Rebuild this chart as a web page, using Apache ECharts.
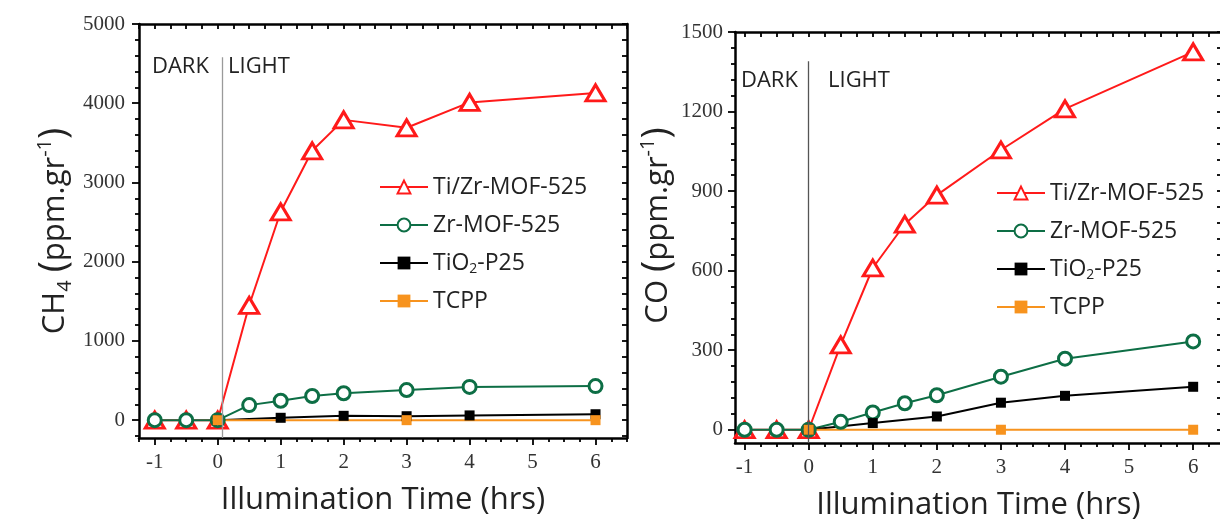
<!DOCTYPE html>
<html>
<head>
<meta charset="utf-8">
<script src="https://cdn.jsdelivr.net/npm/echarts@6/dist/echarts.min.js"></script>
<style>
  html, body { margin: 0; padding: 0; background: #fff; }
  #chart { width: 1220px; height: 519px; }
</style>
</head>
<body>
<div id="chart"></div>
<script>
// time points (hrs)
const timeAll = [-1, -0.5, 0, 0.5, 1, 1.5, 2, 3, 4, 6];
const timeP25 = [0, 1, 2, 3, 4, 6];
const timeTcpp = [0, 3, 6];

// CH4 (ppm.gr-1)
const ch4TiZr = [0, 0, 0, 1450, 2630, 3400, 3790, 3690, 4010, 4130];
const ch4Zr = [0, 0, 0, 190, 245, 305, 340, 380, 420, 430];
const ch4P25 = [0, 30, 55, 50, 60, 75];
const ch4Tcpp = [0, 0, 0];

// CO (ppm.gr-1)
const coTiZr = [0, 0, 0, 320, 610, 775, 885, 1055, 1210, 1425];
const coZr = [0, 0, 0, 30, 65, 100, 130, 200, 268, 333];
const coP25 = [0, 25, 50, 102, 128, 162];
const coTcpp = [0, 0, 0];

const names = ['Ti/Zr-MOF-525', 'Zr-MOF-525', 'TiO2-P25', 'TCPP'];
const timeLabels = [-1, 0, 1, 2, 3, 4, 5, 6];
const ch4Labels = [0, 1000, 2000, 3000, 4000, 5000];
const coLabels = [0, 300, 600, 900, 1200, 1500];

// dark / light divider (x, top of line)
const ch4Divider = [0.07, 4580];
const coDivider = [0, 1390];

const SANS = 'Open Sans';
const SERIF = 'Liberation Serif';

const styles = {
  'Ti/Zr-MOF-525': { color: '#ff1a1a', symbol: 'triangle', size: [19, 16], hollow: true, bw: 3 },
  'Zr-MOF-525': { color: '#0d6e45', symbol: 'circle', size: 13, hollow: true, bw: 3 },
  'TiO2-P25': { color: '#000000', symbol: 'rect', size: 10, hollow: false, bw: 0 },
  'TCPP': { color: '#f7931e', symbol: 'rect', size: 10, hollow: false, bw: 0 }
};

function pairs(xs, ys) {
  return xs.map((x, i) => [x, ys[i]]);
}

function steps(min, max, step) {
  let out = [];
  for (let k = Math.ceil(min / step - 1e-9); k * step <= max + 1e-9; k++) {
    out.push(Math.round(k * step * 1000) / 1000);
  }
  return out;
}

const blackLine = { color: '#000', width: 2.5 };
const tickLine = { color: '#000', width: 1.8 };
const plain = v => String(v);

function makeAxes(g, xr, yr, yMajor, yStep, yName, o) {
  let quarters = steps(xr[0], xr[1], 0.25);
  let xMinor = quarters.filter(v => !Number.isInteger(v));
  let yAll = steps(yr[0], yr[1], yStep);
  let yMinor = yAll.filter(v => yMajor.indexOf(v) < 0);
  let bx = { gridIndex: g, type: 'value', min: xr[0], max: xr[1], splitLine: { show: false } };
  let by = { gridIndex: g, type: 'value', min: yr[0], max: yr[1], splitLine: { show: false } };
  let x = [
    Object.assign({}, bx, {
      position: 'bottom',
      axisLine: { show: true, onZero: false, lineStyle: blackLine },
      axisTick: { show: true, customValues: timeLabels, length: 7, lineStyle: tickLine },
      axisLabel: { customValues: timeLabels, formatter: plain, margin: 14, fontFamily: SERIF, fontSize: 21, color: '#333' },
      name: 'Illumination Time (hrs)',
      nameLocation: 'middle',
      nameGap: o.xNameGap,
      nameTextStyle: { fontFamily: SANS, fontSize: 31, color: '#222' }
    }),
    Object.assign({}, bx, {
      position: 'bottom',
      axisLine: { show: false, onZero: false },
      axisTick: { show: true, customValues: xMinor, length: 4, lineStyle: tickLine },
      axisLabel: { show: false }
    }),
    Object.assign({}, bx, {
      position: 'top',
      axisLine: { show: true, onZero: false, lineStyle: blackLine },
      axisTick: { show: true, customValues: quarters, inside: true, length: 5, lineStyle: tickLine },
      axisLabel: { show: false }
    })
  ];
  let y = [
    Object.assign({}, by, {
      position: 'left',
      axisLine: { show: true, onZero: false, lineStyle: blackLine },
      axisTick: { show: true, customValues: yMajor, length: 7, lineStyle: tickLine },
      axisLabel: { customValues: yMajor, formatter: plain, margin: o.yLabelMargin, fontFamily: SERIF, fontSize: 21, color: '#333' },
      name: yName,
      nameLocation: 'middle',
      nameRotate: 90,
      nameGap: o.yNameGap,
      nameTextStyle: {
        fontFamily: SANS, fontSize: 31, color: '#222', padding: o.yNamePad,
        rich: {
          n: { fontFamily: SANS, fontSize: 31, color: '#222', lineHeight: 40 },
          sb: { fontFamily: SANS, fontSize: 20, color: '#222', lineHeight: 20, verticalAlign: 'bottom' },
          sp: { fontFamily: SANS, fontSize: 20, color: '#222', lineHeight: 20, verticalAlign: 'top' },
          p: { fontFamily: SANS, fontSize: 38, color: '#222', lineHeight: 40 }
        }
      }
    }),
    Object.assign({}, by, {
      position: 'left',
      axisLine: { show: false, onZero: false },
      axisTick: { show: true, customValues: yMinor, length: 4, lineStyle: tickLine },
      axisLabel: { show: false }
    }),
    Object.assign({}, by, {
      position: 'right',
      axisLine: { show: true, onZero: false, lineStyle: blackLine },
      axisTick: { show: true, customValues: yAll, inside: true, length: 5, lineStyle: tickLine },
      axisLabel: { show: false }
    })
  ];
  return { x: x, y: y };
}

function lineSeries(name, xs, ys, g, divider, yMin) {
  let st = styles[name];
  let s = {
    name: name,
    type: 'line',
    xAxisIndex: g * 3,
    yAxisIndex: g * 3,
    data: pairs(xs, ys),
    symbol: st.symbol,
    symbolSize: st.size,
    showAllSymbol: true,
    color: st.color,
    lineStyle: { color: st.color, width: 2 },
    itemStyle: {
      color: st.hollow ? '#fff' : st.color,
      borderColor: st.color,
      borderWidth: st.bw
    },
    emphasis: { disabled: true },
    animation: false
  };
  if (divider) {
    s.markLine = {
      silent: true,
      symbol: ['none', 'none'],
      label: { show: false },
      lineStyle: { color: g === 0 ? '#9a9a9a' : '#555', width: 1.3, type: 'solid' },
      data: [[{ coord: [divider[0], divider[1]] }, { coord: [divider[0], yMin] }]]
    };
  }
  return s;
}

const ch4X = [-1.25, 6.5], ch4Y = [-225, 5000];
const coX = [-1.15, 6.45], coY = [-50, 1500];

const yNameCH4 = '{n|CH}{sb|4}{n| }{p|(}{n|ppm.gr}{sp|-1}{p|)}';
const yNameCO = '{n|CO }{p|(}{n|ppm.gr}{sp|-1}{p|)}';

const a1 = makeAxes(0, ch4X, ch4Y, ch4Labels, 200, yNameCH4,
  { xNameGap: 47, yNameGap: 64, yLabelMargin: 14, yNamePad: [0, 0, 0, 0] });
const a2 = makeAxes(1, coX, coY, coLabels, 60, yNameCO,
  { xNameGap: 47, yNameGap: 50, yLabelMargin: 12, yNamePad: [0, 0, 0, 24] });

const legendText = {
  fontFamily: SANS, fontSize: 23, color: '#222', lineHeight: 26,
  rich: {
    n: { fontFamily: SANS, fontSize: 23, color: '#222', lineHeight: 26 },
    s: { fontFamily: SANS, fontSize: 14, color: '#222', lineHeight: 14, verticalAlign: 'bottom' }
  }
};
function legendFmt(name) {
  if (name === 'TiO2-P25') return '{n|TiO}{s|2}{n|-P25}';
  return '{n|' + name + '}';
}

const darkLight = { fontFamily: SANS, fontSize: 22, fill: '#222' };

const chart = echarts.init(document.getElementById('chart'));
chart.setOption({
  backgroundColor: '#fff',
  animation: false,
  grid: [
    { left: 139, top: 24, width: 488, height: 414, outerBoundsMode: 'none', containLabel: false },
    { left: 735, top: 32, width: 487, height: 411, outerBoundsMode: 'none', containLabel: false }
  ],
  xAxis: a1.x.concat(a2.x),
  yAxis: a1.y.concat(a2.y),
  legend: [
    {
      data: names, orient: 'vertical', left: 374, top: 169, itemGap: 12,
      itemWidth: 48, itemHeight: 16, textStyle: legendText, formatter: legendFmt,
      selectedMode: false
    },
    {
      data: names, orient: 'vertical', left: 991, top: 175, itemGap: 12,
      itemWidth: 48, itemHeight: 16, textStyle: legendText, formatter: legendFmt,
      selectedMode: false
    }
  ],
  graphic: [
    { type: 'text', left: 152, top: 56, style: Object.assign({ text: 'DARK' }, darkLight) },
    { type: 'text', left: 228, top: 56, style: Object.assign({ text: 'LIGHT' }, darkLight) },
    { type: 'text', left: 741, top: 70, style: Object.assign({ text: 'DARK' }, darkLight) },
    { type: 'text', left: 828, top: 70, style: Object.assign({ text: 'LIGHT' }, darkLight) }
  ],
  series: [
    lineSeries('Ti/Zr-MOF-525', timeAll, ch4TiZr, 0, ch4Divider, ch4Y[0]),
    lineSeries('Zr-MOF-525', timeAll, ch4Zr, 0),
    lineSeries('TiO2-P25', timeP25, ch4P25, 0),
    lineSeries('TCPP', timeTcpp, ch4Tcpp, 0),
    lineSeries('Ti/Zr-MOF-525', timeAll, coTiZr, 1, coDivider, coY[0]),
    lineSeries('Zr-MOF-525', timeAll, coZr, 1),
    lineSeries('TiO2-P25', timeP25, coP25, 1),
    lineSeries('TCPP', timeTcpp, coTcpp, 1)
  ]
});
</script>
</body>
</html>
